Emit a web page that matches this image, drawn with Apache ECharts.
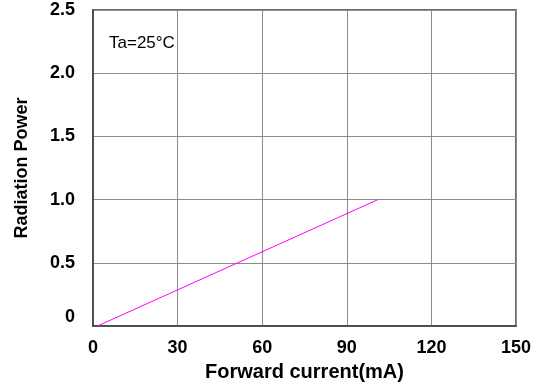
<!DOCTYPE html>
<html>
<head>
<meta charset="utf-8">
<script src="https://cdn.jsdelivr.net/npm/echarts@6/dist/echarts.min.js"></script>
<style>
  html, body { margin: 0; padding: 0; background: #fff; }
  #chart { width: 542px; height: 387px; }
</style>
</head>
<body>
<div id="chart"></div>
<script>
// Forward current (mA) vs relative radiation power
const currentMA = [1.5, 101];
const radiationPower = [0, 1.0];
const xTicks = [0, 30, 60, 90, 120, 150];
const yTicks = [0, 0.5, 1.0, 1.5, 2.0, 2.5];

const chart = echarts.init(document.getElementById('chart'));
const family = 'Liberation Sans, Arial, sans-serif';
const tickFont = { fontFamily: family, fontWeight: 'bold', fontSize: 18, color: '#000' };

chart.setOption({
  animation: false,
  grid: { left: 93, right: 26, top: 10, bottom: 60, show: true, borderColor: '#404040', borderWidth: 1.5 },
  xAxis: {
    type: 'value', min: xTicks[0], max: xTicks[xTicks.length - 1], interval: 30,
    name: 'Forward current(mA)', nameLocation: 'middle', nameGap: 34,
    nameTextStyle: { fontFamily: family, fontWeight: 'bold', fontSize: 20, color: '#000' },
    axisLine: { show: true, lineStyle: { color: '#404040', width: 1.5 } },
    axisTick: { show: false },
    axisLabel: Object.assign({ margin: 13 }, tickFont),
    splitLine: { show: true, lineStyle: { color: '#8c8c8c', width: 1 } }
  },
  yAxis: {
    type: 'value', min: yTicks[0], max: yTicks[yTicks.length - 1], interval: 0.5,
    name: 'Radiation Power', nameLocation: 'middle', nameGap: 62,
    nameTextStyle: { fontFamily: family, fontWeight: 'bold', fontSize: 18, color: '#000' },
    axisLine: { show: true, lineStyle: { color: '#404040', width: 1.5 } },
    axisTick: { show: false },
    axisLabel: Object.assign({
      margin: 18,
      formatter: v => (v === 0 ? '{z|0}' : v.toFixed(1)),
      rich: { z: Object.assign({ padding: [0, 0, 18, 0] }, tickFont) }
    }, tickFont),
    splitLine: { show: true, lineStyle: { color: '#8c8c8c', width: 1 } }
  },
  graphic: [{
    type: 'text', left: 109, top: 35,
    style: { text: 'Ta=25°C', font: '17px "Liberation Sans", Arial, sans-serif', fill: '#000' }
  }],
  series: [{
    type: 'line',
    data: currentMA.map((x, i) => [x, radiationPower[i]]),
    showSymbol: false,
    lineStyle: { color: '#ff00ff', width: 1 }
  }]
});
</script>
</body>
</html>
